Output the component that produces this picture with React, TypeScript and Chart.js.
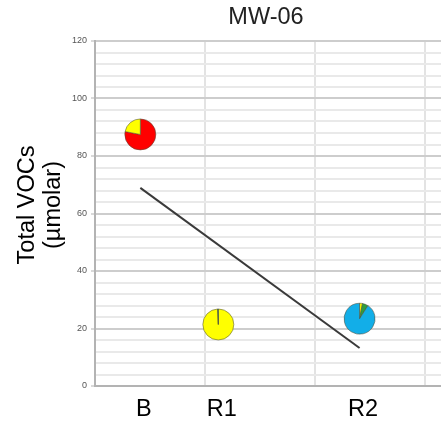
import React, { useEffect, useRef } from 'react';
import { Chart, registerables } from 'chart.js';

Chart.register(...registerables);

// Sampling events along the x axis and the total VOC concentration at each
const chartTitle = 'MW-06';
const sampleLabels = ['B', 'R1', 'R2'];
const samplePositions = [0.412, 1.121, 2.405];
const totalVocs = [87.5, 21.4, 23.4];

// Linear trend through the samples, evaluated at the first and last sample
const trendValues = [68.9, 13.2];

// Composition of each sample (percent of total), one array per component
const shareRed = [78, 0, 0];
const shareYellow = [22, 99.3, 3];
const shareGreen = [0, 0.7, 6];
const shareBlue = [0, 0, 91];
const sliceColors = ['#ff0000', '#ffff00', '#2f9e3f', '#12aee8'];

// Vertical grid positions and axis ranges
const gridPositions = [0, 1, 2, 3];
const xMax = 3.145;
const yMax = 120;
const yMajorStep = 20;
const yMinorStep = 4;

const yTitleLines = ['Total VOCs', '(µmolar)'];
const FONT = "'Liberation Sans', Arial, sans-serif";
const BIG = 23.5;

const isSample = (v: number) => samplePositions.some((p) => Math.abs(p - v) < 1e-9);

const piePlugin = {
  id: 'samplePies',
  afterDatasetsDraw(chart: any) {
    const meta = chart.getDatasetMeta(1);
    const ctx = chart.ctx as CanvasRenderingContext2D;
    const shares = [shareRed, shareYellow, shareGreen, shareBlue];
    const r = 15.5;
    meta.data.forEach((pt: any, i: number) => {
      const { x, y } = pt.getProps(['x', 'y'], true);
      const total = shares.reduce((s, arr) => s + arr[i], 0);
      let a = -Math.PI / 2;
      ctx.save();
      shares.forEach((arr, k) => {
        const v = arr[i];
        if (!v) return;
        const a2 = a + (v / total) * Math.PI * 2;
        ctx.beginPath();
        ctx.moveTo(x, y);
        ctx.arc(x, y, r, a, a2);
        ctx.closePath();
        ctx.fillStyle = sliceColors[k];
        ctx.fill();
        ctx.strokeStyle = 'rgba(80,80,60,0.55)';
        ctx.lineWidth = 1;
        ctx.stroke();
        a = a2;
      });
      ctx.restore();
    });
  },
};

const textPlugin = {
  id: 'chartTexts',
  afterDraw(chart: any) {
    const ctx = chart.ctx as CanvasRenderingContext2D;
    const area = chart.chartArea;
    ctx.save();
    ctx.fillStyle = '#222';
    ctx.font = `${BIG}px ${FONT}`;
    ctx.textAlign = 'center';
    ctx.textBaseline = 'middle';
    ctx.fillText(chartTitle, (area.left + area.right) / 2 - 2, 18);

    ctx.fillStyle = '#000';
    ctx.translate(28, 205);
    ctx.rotate(-Math.PI / 2);
    yTitleLines.forEach((line, i) => ctx.fillText(line, 0, i * 25.5));
    ctx.restore();
  },
};

export default function App() {
  const canvasRef = useRef<HTMLCanvasElement | null>(null);

  useEffect(() => {
    if (!canvasRef.current) return;
    const chart = new Chart(canvasRef.current, {
      type: 'scatter',
      data: {
        datasets: [
          {
            type: 'line',
            data: [
              { x: samplePositions[0], y: trendValues[0] },
              { x: samplePositions[samplePositions.length - 1], y: trendValues[1] },
            ],
            borderColor: '#3a3a3a',
            borderWidth: 2,
            pointRadius: 0,
            fill: false,
          },
          {
            data: samplePositions.map((x, i) => ({ x, y: totalVocs[i] })),
            pointRadius: 0,
            backgroundColor: 'transparent',
            borderColor: 'transparent',
          },
        ],
      } as any,
      options: {
        animation: false,
        responsive: false,
        layout: { padding: { top: 41, right: 0, left: 0, bottom: 0 } },
        plugins: {
          legend: { display: false },
          tooltip: { enabled: false },
          title: { display: false },
        },
        scales: {
          x: {
            type: 'linear',
            min: 0,
            max: xMax,
            afterBuildTicks: (axis: any) => {
              axis.ticks = [...gridPositions, ...samplePositions]
                .sort((a, b) => a - b)
                .map((value) => ({ value }));
            },
            afterFit: (scale: any) => {
              scale.height = 38;
            },
            ticks: {
              autoSkip: false,
              maxRotation: 0,
              padding: 9,
              labelOffset: 3.5,
              color: '#000',
              font: { family: FONT, size: BIG },
              callback: (value: any) => {
                const idx = samplePositions.findIndex((p) => Math.abs(p - value) < 1e-9);
                return idx >= 0 ? sampleLabels[idx] : '';
              },
            },
            grid: {
              drawTicks: false,
              lineWidth: 2,
              color: (c: any) => (c.tick && isSample(c.tick.value) ? 'rgba(0,0,0,0)' : '#e3e3e3'),
            },
            border: { display: true, color: '#b3b3b3', width: 2 },
          },
          y: {
            type: 'linear',
            min: 0,
            max: yMax,
            afterFit: (scale: any) => {
              scale.width = 95;
            },
            ticks: {
              stepSize: yMinorStep,
              maxTicksLimit: 100,
              autoSkip: false,
              padding: 4,
              color: '#555',
              font: { family: FONT, size: 9 },
              callback: (value: any) => (value % yMajorStep === 0 ? String(value) : ''),
            },
            grid: {
              lineWidth: 2,
              tickLength: 4,
              tickWidth: 1,
              color: (c: any) => (c.tick && c.tick.value % yMajorStep === 0 ? '#cdcdcd' : '#e9e9e9'),
              tickColor: (c: any) =>
                c.tick && c.tick.value % yMajorStep === 0 ? '#b3b3b3' : 'rgba(0,0,0,0)',
            },
            border: { display: true, color: '#b3b3b3', width: 2 },
          },
        },
      } as any,
      plugins: [piePlugin, textPlugin],
    });
    return () => chart.destroy();
  }, []);

  return (
    <div style={{ position: 'fixed', left: 0, top: 0, width: 441, height: 424, background: '#fff' }}>
      <canvas ref={canvasRef} width={441} height={424} />
    </div>
  );
}
